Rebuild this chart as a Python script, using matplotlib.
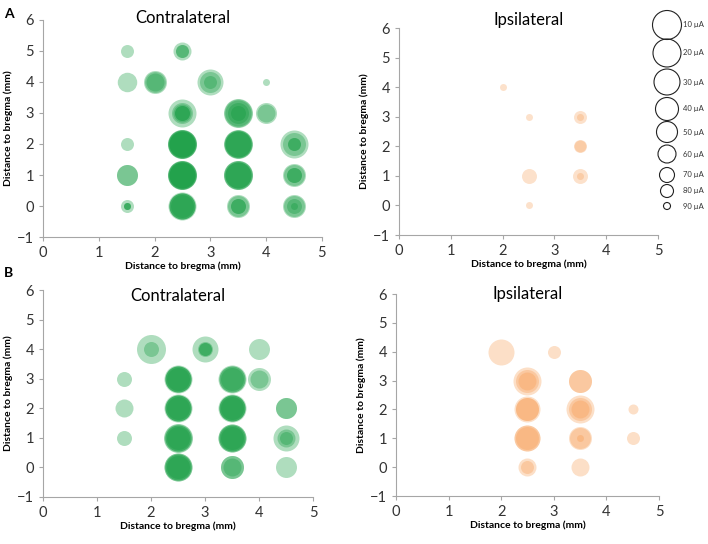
import numpy as np
import matplotlib.pyplot as plt

plt.rcParams['font.family'] = ['Lato', 'DejaVu Sans']

# key: current (uA) -> circle diameter (px)
legend_ua = [10, 20, 30, 40, 50, 60, 70, 80, 90]
legend_px = [29, 28, 26, 23, 21, 18, 15, 13, 7]

# each site has several overlapping circles, one per threshold current (uA)
# A - contralateral
a_con_x = [1.5, 2.5, 1.5, 2, 3, 4, 2.5, 3.5, 4, 1.5, 2.5, 3.5, 4.5, 1.5, 2.5, 3.5, 4.5, 1.5, 2.5, 3.5, 4.5]
a_con_y = [5, 5, 4, 4, 4, 4, 3, 3, 3, 2, 2, 2, 2, 1, 1, 1, 1, 0, 0, 0, 0]
a_con_ua = [[80], [60, 80, 80], [55], [40, 50, 60], [30, 50, 80], [90],
            [20, 50, 60, 70, 70], [10, 20, 30, 50, 70], [50, 60], [80],
            [10, 10, 20, 20, 30, 30], [10, 20, 20, 30, 30], [20, 40, 80, 80],
            [50, 50], [10, 10, 20, 20, 30, 30], [10, 10, 20, 30, 30], [40, 50, 70, 70],
            [80, 90, 90, 90], [20, 30, 30, 30, 40], [40, 50, 70, 70], [40, 50, 70, 90]]

# A - ipsilateral
a_ips_x = [2, 2.5, 3.5, 3.5, 2.5, 3.5, 2.5]
a_ips_y = [4, 3, 3, 2, 1, 1, 0]
a_ips_ua = [[90], [95], [80, 90], [80, 82], [70], [70, 90], [90]]

# B - contralateral
b_con_x = [2, 3, 4, 1.5, 2.5, 3.5, 4, 1.5, 2.5, 3.5, 4.5, 1.5, 2.5, 3.5, 4.5, 2.5, 3.5, 4.5]
b_con_y = [4, 4, 4, 3, 3, 3, 3, 2, 2, 2, 2, 1, 1, 1, 1, 0, 0, 0]
b_con_ua = [[10, 70], [30, 70, 80, 80], [50], [70], [20, 30, 30, 30, 40], [20, 30, 30, 40],
            [40, 60], [60], [20, 30, 30, 30, 40], [20, 30, 30, 30, 40], [50, 50], [70],
            [10, 20, 30, 30, 40], [20, 20, 30, 30, 40], [30, 60, 80], [20, 20, 30, 30, 40],
            [40, 40, 60], [50]]

# B - ipsilateral
b_ips_x = [2, 3, 2.5, 3.5, 2.5, 3.5, 4.5, 2.5, 3.5, 4.5, 2.5, 3.5]
b_ips_y = [4, 4, 3, 3, 2, 2, 2, 1, 1, 1, 0, 0]
b_ips_ua = [[30], [80], [20, 40, 60], [40, 40], [30, 40, 40], [20, 40, 60], [85],
            [30, 30, 40], [40, 50, 90], [80], [60, 80], [60]]

green = '#0e9a3c'
orange = '#f79646'
axcol = '#a6a6a6'

fig = plt.figure(figsize=(7.08, 5.44), dpi=100)

def ua_to_s(ua):
    d = np.interp(ua, legend_ua, legend_px)  # diameter in px
    return (d * 72 / 100.0) ** 2  # marker area in pt^2

def panel(rect, xs, ys, uas, color, alpha, title, title_y):
    ax = fig.add_axes(rect)
    for x, y, ua in zip(xs, ys, uas):
        for u in ua:
            ax.scatter([x], [y], s=ua_to_s(u), color=color, alpha=alpha, lw=0, zorder=3)
    ax.set_xlim(0, 5)
    ax.set_ylim(-1, 6)
    ax.set_xticks(range(0, 6))
    ax.set_yticks(range(-1, 7))
    for sp in ['top', 'right']:
        ax.spines[sp].set_visible(False)
    for sp in ['left', 'bottom']:
        ax.spines[sp].set_color(axcol)
        ax.spines[sp].set_linewidth(0.8)
    ax.tick_params(colors=axcol, labelcolor='#333333', labelsize=10.5, length=3, width=0.8)
    ax.set_xlabel('Distance to bregma (mm)', fontsize=7.5, fontweight='bold', labelpad=1)
    ax.set_ylabel('Distance to bregma (mm)', fontsize=7.5, fontweight='bold', labelpad=3)
    ax.text(0.5, title_y, title, transform=ax.transAxes, ha='center', va='center', fontsize=12)
    return ax

panel([0.0607, 0.5643, 0.394, 0.399], a_con_x, a_con_y, a_con_ua, green, 0.33, 'Contralateral', 1.01)
panel([0.5636, 0.568, 0.3658, 0.3805], a_ips_x, a_ips_y, a_ips_ua, orange, 0.28, 'Ipsilateral', 1.04)
panel([0.0607, 0.0864, 0.3814, 0.3805], b_con_x, b_con_y, b_con_ua, green, 0.33, 'Contralateral', 0.97)
panel([0.5593, 0.0882, 0.3715, 0.3713], b_ips_x, b_ips_y, b_ips_ua, orange, 0.3, 'Ipsilateral', 1.0)

# size key on the right
key_y = [25, 53, 82, 109, 132, 154, 175, 191, 206]  # centres in px from top
lax = fig.add_axes([0, 0, 1, 1], facecolor='none')
lax.set_xlim(0, 708)
lax.set_ylim(544, 0)
lax.axis('off')
lax.scatter([667] * len(legend_ua), key_y, s=ua_to_s(legend_ua), facecolor='none',
            edgecolor='#222222', lw=0.8)
for u, y in zip(legend_ua, key_y):
    lax.text(683, y, '%d \u00b5A' % u, fontsize=5.5, va='center', ha='left', color='#333333')

# panel letters
fig.text(0.006, 0.985, 'A', fontsize=10, fontweight='bold', va='top')
fig.text(0.006, 0.51, 'B', fontsize=10, fontweight='bold', va='top')

fig.savefig('out.png', dpi=100)
